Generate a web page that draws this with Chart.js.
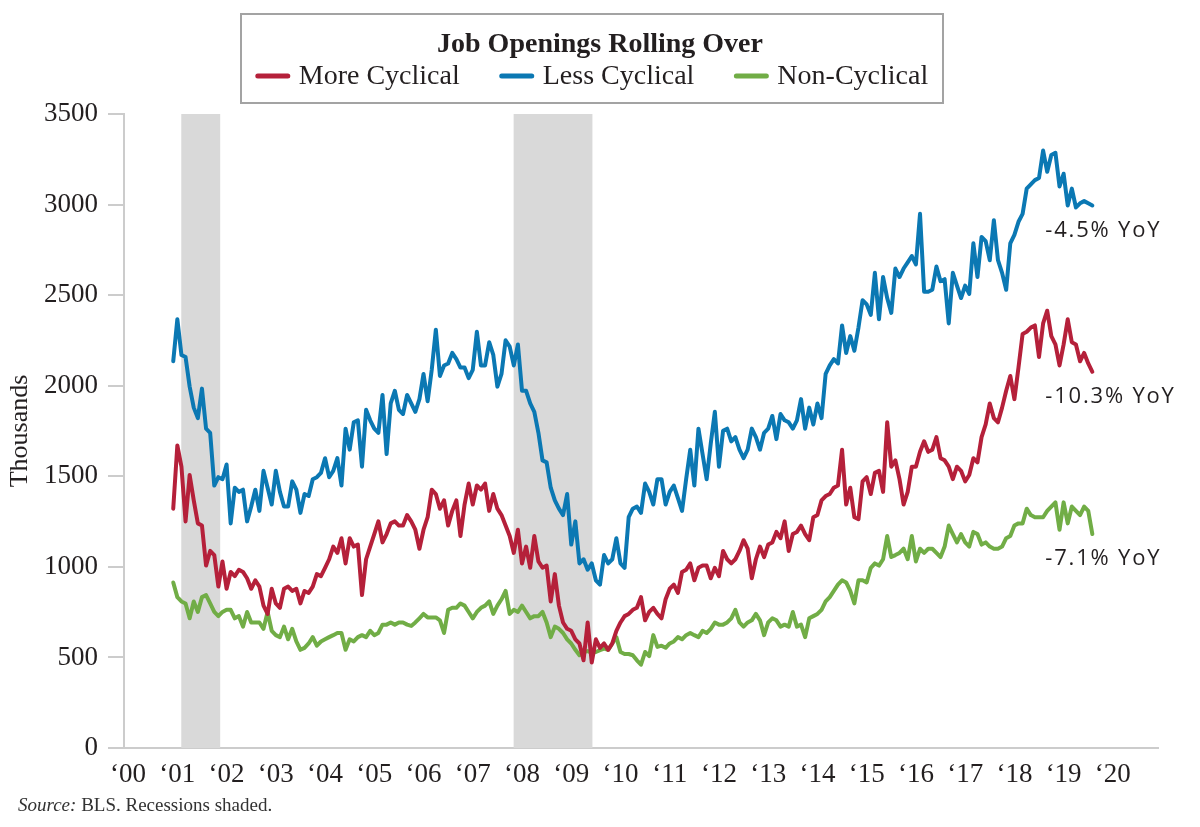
<!DOCTYPE html>
<html>
<head>
<meta charset="utf-8">
<script src="https://cdn.jsdelivr.net/npm/chart.js@4.4.1/dist/chart.umd.min.js"></script>
<style>
html,body{margin:0;padding:0;background:#fff;}
canvas{display:block;}
</style>
</head>
<body>
<canvas id="c" width="1200" height="827"></canvas>
<script>
// ---------- DATA ----------
const chartTitle = 'Job Openings Rolling Over';
const seriesNames = ['More Cyclical', 'Less Cyclical', 'Non-Cyclical'];
const startYear = 2000, startMonth = 12; // first observation: Dec 2000, monthly

const moreCyclical = [
1321,1670,1553,1251,1507,1367,1240,1228,1007,1088,
1065,891,1030,879,972,949,984,972,937,879,
926,891,786,740,879,798,774,879,891,867,
879,798,867,856,891,960,949,995,1042,1112,
1077,1158,1019,1158,1112,1123,844,1042,1112,1181,
1251,1135,1181,1240,1251,1228,
1228,1286,1251,1205,1100,1205,1274,1426,1402,1321,
1367,1228,1309,1367,1170,1344,1460,1344,1449,1426,
1460,1309,1402,1321,1286,1228,1170,1077,1205,1019,
1112,995,1170,1030,995,1007,809,960,786,693,
658,647,600,577,484,693,472,600,553,577,
542,577,647,693,728,740,763,774,833,705,
751,774,740,
716,821,879,902,856,972,984,1019,926,995,
1007,1007,937,995,949,1088,1042,1019,1042,1088,
1147,1100,937,1042,1112,1054,1123,1135,1193,1158,
1251,1088,1181,1193,1228,1181,1147,1274,1286,1367,
1391,1402,1437,1449,1647,1344,1437,1274,1263,1472,
1495,1402,1519,1530,1414,1798,1553,1588,1484,1344,
1414,1553,1553,1635,1693,1635,1647,1716,1600,1588,
1553,1484,
1553,1530,1472,1507,1600,1577,1716,1786,1902,1821,
1798,1879,1972,2054,1926,2100,2286,2298,2321,2333,
2158,2344,2414,2274,2228,2112,2228,2367,2240,2228,
2135,2181,2123,2077
];

const lessCyclical = [
2135,2367,2170,2158,1995,1879,1821,1984,1763,1740,
1449,1495,1484,1565,1240,1437,1414,1426,1251,1333,
1426,1309,1530,1437,1344,1530,1414,1333,1333,1472,
1426,1298,1402,1391,1484,1495,1519,1600,1495,1530,
1600,1449,1763,1647,1798,1809,1553,1867,1809,1763,
1740,1949,1623,1902,1972,1867,
1844,1949,1902,1856,1926,2065,1914,2088,2309,2054,
2112,2123,2181,2147,2100,2100,2042,2088,2298,2112,
2112,2240,2170,1995,2065,2251,2216,2112,2228,1972,
1972,1902,1856,1740,1588,1577,1437,1367,1321,1286,
1402,1123,1251,1019,1042,984,1019,926,902,1065,
1019,1042,1158,1019,995,1274,1321,1333,1298,1460,
1414,1344,1484,
1484,1344,1414,1449,1379,1309,1484,1647,1449,1763,
1623,1484,1681,1856,1553,1751,1763,1693,1716,1647,
1600,1647,1763,1716,1647,1740,1763,1833,1705,1844,
1809,1798,1763,1809,1926,1763,1879,1786,1902,1821,
2065,2112,2147,2123,2333,2181,2274,2193,2321,2472,
2449,2391,2623,2367,2600,2484,2402,2647,2600,2647,
2681,2716,2670,2949,2519,2519,2530,2658,2577,2588,
2344,2623,
2553,2484,2553,2507,2786,2600,2821,2798,2693,2914,
2693,2623,2530,2786,2833,2905,2949,3088,3112,3135,
3147,3298,3181,3274,3286,3100,3170,2995,3088,2984,
3007,3019,3007,2995
];

const nonCyclical = [
914,833,809,798,716,809,751,833,844,798,
751,728,751,763,763,716,728,670,751,693,
693,693,658,751,647,623,612,670,600,658,
588,542,553,577,612,565,588,600,612,623,
635,635,542,600,588,612,623,612,647,623,
635,681,681,693,681,693,
693,681,674,693,716,740,721,721,721,705,
635,763,774,774,798,786,751,716,751,774,
786,809,740,786,821,867,740,763,751,786,
751,716,728,728,751,693,612,670,658,635,
600,577,542,512,530,535,526,530,540,549,
542,577,612,530,519,519,512,484,460,530,
507,623,558,
565,553,577,588,612,600,623,635,623,612,
647,635,658,693,681,681,693,716,763,693,
670,693,705,740,705,623,693,716,705,670,
681,670,751,670,681,612,716,728,740,763,
809,833,867,902,926,914,867,798,926,926,
914,995,1019,1007,1042,1170,1054,1065,1077,1100,
1042,1170,1030,1100,1077,1100,1100,1077,1054,1112,
1228,1181,
1135,1181,1135,1112,1193,1181,1123,1135,1112,1100,
1100,1112,1158,1170,1228,1240,1240,1321,1286,1274,
1274,1274,1309,1333,1356,1205,1356,1240,1333,1309,
1286,1333,1309,1181
];

const yoyLabels = ['-10.3% YoY', '-4.5% YoY', '-7.1% YoY'];
const yearTicks = [2000,2001,2002,2003,2004,2005,2006,2007,2008,2009,2010,2011,2012,2013,2014,2015,2016,2017,2018,2019,2020];
const yearTickLabels = ['\u201800','\u201801','\u201802','\u201803','\u201804','\u201805','\u201806','\u201807','\u201808','\u201809','\u201810','\u201811','\u201812','\u201813','\u201814','\u201815','\u201816','\u201817','\u201818','\u201819','\u201820'];
const yTickValues = [0,500,1000,1500,2000,2500,3000,3500];
const recessions = [[2001.08, 2001.87], [2007.83, 2009.43]];
const yAxisTitle = 'Thousands';
const sourceLabel = 'Source:';
const sourceText = ' BLS. Recessions shaded.';

// ---------- BUILD ----------
const colors = ['#b5203a', '#0b78b3', '#71ad46'];
function toPoints(arr) {
  return arr.map((v, i) => {
    const m = (startMonth - 1) + i;
    return { x: startYear + m / 12, y: v };
  });
}
const serif = '"Liberation Serif", "Times New Roman", serif';

const decor = {
  id: 'decor',
  beforeDatasetsDraw(chart) {
    const { ctx, chartArea: a, scales: { x } } = chart;
    ctx.save();
    ctx.fillStyle = '#d9d9d9';
    recessions.forEach(([s, e]) => {
      const x0 = x.getPixelForValue(s), x1 = x.getPixelForValue(e);
      ctx.fillRect(x0, a.top, x1 - x0, a.bottom - a.top);
    });
    ctx.restore();
  },
  afterDraw(chart) {
    const { ctx } = chart;
    ctx.save();
    // title / legend box
    ctx.strokeStyle = '#a3a3a3';
    ctx.lineWidth = 2;
    ctx.strokeRect(241, 14, 702, 89);
    ctx.fillStyle = '#231f20';
    ctx.font = 'bold 28px ' + serif;
    ctx.textAlign = 'center';
    ctx.textBaseline = 'middle';
    ctx.fillText(chartTitle, 600, 45);
    // legend
    ctx.font = '28px ' + serif;
    const sw = 34, sgap = 9, igap = 40;
    const ds = chart.data.datasets;
    const widths = ds.map(d => ctx.measureText(d.label).width);
    let total = widths.reduce((s, w) => s + w + sw + sgap, 0) + igap * (ds.length - 1);
    let xx = 592 - total / 2;
    ctx.textAlign = 'left';
    ds.forEach((d, i) => {
      ctx.strokeStyle = d.borderColor;
      ctx.lineWidth = 5;
      ctx.lineCap = 'round';
      ctx.beginPath();
      ctx.moveTo(xx + 2, 76);
      ctx.lineTo(xx + sw - 2, 76);
      ctx.stroke();
      ctx.fillStyle = '#231f20';
      ctx.fillText(d.label, xx + sw + sgap, 77);
      xx += sw + sgap + widths[i] + igap;
    });
    // YoY annotations next to last points
    ctx.font = '500 22px "Open Sans", sans-serif';
    ctx.letterSpacing = '1.8px';
    ctx.fillStyle = '#231f20';
    ctx.textBaseline = 'middle';
    ds.forEach((d, i) => {
      const meta = chart.getDatasetMeta(i);
      const last = meta.data[meta.data.length - 1];
      ctx.fillText(yoyLabels[i], last.x - 47, last.y + 25);
    });
    ctx.letterSpacing = '0px';
    // source note
    ctx.textBaseline = 'alphabetic';
    ctx.fillStyle = '#333';
    ctx.font = 'italic 19px ' + serif;
    ctx.fillText(sourceLabel, 18, 811);
    const w = ctx.measureText(sourceLabel).width;
    ctx.font = '19px ' + serif;
    ctx.fillText(sourceText, 18 + w, 811);
    ctx.restore();
  }
};

new Chart(document.getElementById('c'), {
  type: 'line',
  data: {
    datasets: [
      { label: seriesNames[0], data: toPoints(moreCyclical), borderColor: colors[0] },
      { label: seriesNames[1], data: toPoints(lessCyclical), borderColor: colors[1] },
      { label: seriesNames[2], data: toPoints(nonCyclical), borderColor: colors[2] }
    ].map(d => Object.assign(d, { borderWidth: 4, pointRadius: 0, tension: 0, fill: false, borderJoinStyle: 'round', borderCapStyle: 'round' }))
  },
  options: {
    responsive: false,
    animation: false,
    layout: { padding: { top: 114, right: 42, left: 0, bottom: 0 } },
    plugins: { legend: { display: false }, title: { display: false }, tooltip: { enabled: false } },
    scales: {
      x: {
        type: 'linear',
        min: 2000 - 1 / 12,
        max: 2021 - 1 / 12,
        afterFit: s => { s.height = 79; },
        afterBuildTicks: s => { s.ticks = yearTicks.map(v => ({ value: v })); },
        grid: { display: false, drawTicks: false },
        border: { display: true, color: '#cccccc', width: 2 },
        ticks: {
          callback: v => yearTickLabels[yearTicks.indexOf(v)],
          font: { family: serif, size: 27 },
          color: '#231f20',
          padding: 11,
          maxRotation: 0,
          autoSkip: false
        }
      },
      y: {
        min: 0,
        max: 3500,
        afterFit: s => { s.width = 124; },
        afterBuildTicks: s => { s.ticks = yTickValues.map(v => ({ value: v })); },
        grid: { display: true, drawOnChartArea: false, drawTicks: true, tickLength: 16, color: '#cccccc', lineWidth: 2 },
        border: { display: true, color: '#cccccc', width: 2 },
        ticks: {
          callback: v => String(v),
          font: { family: serif, size: 27 },
          color: '#231f20',
          padding: 10
        },
        title: {
          display: true,
          text: yAxisTitle,
          font: { family: serif, size: 26 },
          color: '#231f20',
          padding: { top: 5, bottom: 0 }
        }
      }
    }
  },
  plugins: [decor]
});
</script>
</body>
</html>
